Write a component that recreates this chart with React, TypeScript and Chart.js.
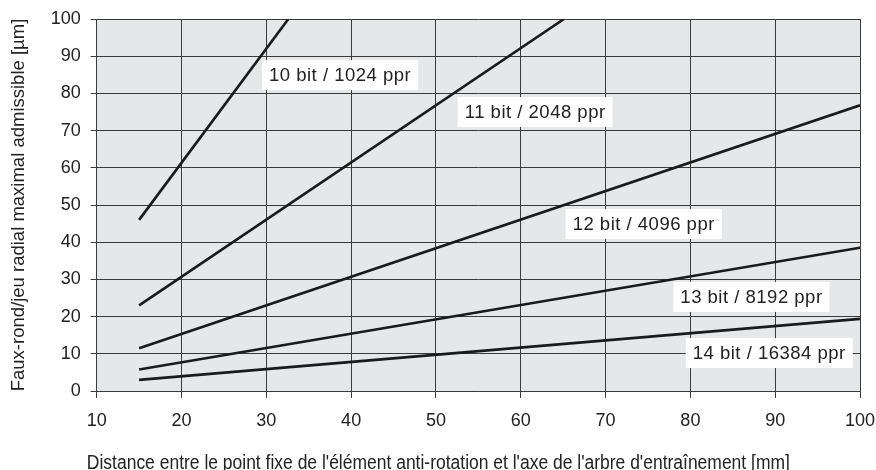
import React, { useEffect, useRef } from "react";
import { Chart, registerables } from "chart.js";
Chart.register(...registerables);

// Data
const xMin = 10;
const xMax = 100;
const yMin = 0;
const yMax = 100;
const tickStep = 10;

const line10bit = [{ x: 15, y: 46 }, { x: 32.6, y: 100 }];
const line11bit = [{ x: 15, y: 23 }, { x: 65.1, y: 100 }];
const line12bit = [{ x: 15, y: 11.5 }, { x: 100, y: 76.8 }];
const line13bit = [{ x: 15, y: 5.8 }, { x: 100, y: 38.5 }];
const line14bit = [{ x: 15, y: 3.0 }, { x: 100, y: 19.4 }];

const seriesNames = [
  "10 bit / 1024 ppr",
  "11 bit / 2048 ppr",
  "12 bit / 4096 ppr",
  "13 bit / 8192 ppr",
  "14 bit / 16384 ppr",
];
// label anchor (data coordinates, centre of label box)
const labelX = [38.7, 61.7, 74.5, 87.2, 89.3];
const labelY = [84.9, 75.0, 44.9, 25.3, 10.2];

const xTitle =
  "Distance entre le point fixe de l'élément anti-rotation et l'axe de l'arbre d'entraînement [mm]";
const yTitle = "Faux-rond/jeu radial maximal admissible [µm]";

const FONT = "'Liberation Sans', Arial, sans-serif";
const TEXT = "#222222";
const GRID = "#3a3a3a";
const BG = "#e6e7e8";
const LINE = "#1a1a1a";

const bgPlugin = {
  id: "bgPlugin",
  beforeDraw(chart: any) {
    const { ctx, chartArea } = chart;
    ctx.save();
    ctx.fillStyle = BG;
    ctx.fillRect(chartArea.left, chartArea.top, chartArea.right - chartArea.left, chartArea.bottom - chartArea.top);
    ctx.restore();
  },
};

const labelPlugin = {
  id: "labelPlugin",
  afterDatasetsDraw(chart: any) {
    const { ctx, scales } = chart;
    ctx.save();
    ctx.font = `18.5px ${FONT}`;
    try { (ctx as any).letterSpacing = "0.5px"; } catch (e) {}
    ctx.textAlign = "center";
    ctx.textBaseline = "middle";
    seriesNames.forEach((name, i) => {
      const cx = scales.x.getPixelForValue(labelX[i]);
      const cy = scales.y.getPixelForValue(labelY[i]);
      const w = ctx.measureText(name).width + 14;
      const h = 30;
      ctx.fillStyle = "#ffffff";
      ctx.fillRect(cx - w / 2, cy - h / 2, w, h);
      ctx.fillStyle = TEXT;
      ctx.fillText(name, cx, cy + 1);
    });
    ctx.restore();
  },
};

// condensed x-axis title (reference uses a condensed face)
const xTitlePlugin = {
  id: "xTitlePlugin",
  afterDraw(chart: any) {
    const { ctx, scales } = chart;
    ctx.save();
    ctx.font = `19.5px ${FONT}`;
    ctx.fillStyle = TEXT;
    ctx.textAlign = "center";
    ctx.textBaseline = "alphabetic";
    const natural = ctx.measureText(xTitle).width;
    const target = 703;
    const sx = target / natural;
    const cx = (scales.x.left + scales.x.right) / 2 - 40;
    ctx.translate(cx, 468.5);
    ctx.scale(sx, 1);
    ctx.fillText(xTitle, 0, 0);
    ctx.restore();
  },
};

export default function App() {
  const ref = useRef<HTMLCanvasElement | null>(null);
  useEffect(() => {
    if (!ref.current) return;
    const mk = (data: any) => ({
      data,
      borderColor: LINE,
      borderWidth: 2.6,
      pointRadius: 0,
      fill: false,
      tension: 0,
    });
    const chart = new Chart(ref.current, {
      type: "line",
      data: {
        datasets: [mk(line10bit), mk(line11bit), mk(line12bit), mk(line13bit), mk(line14bit)],
      },
      options: {
        animation: false,
        responsive: false,
        maintainAspectRatio: false,
        layout: { padding: { left: 8, right: 16, top: 19, bottom: 0 } },
        plugins: { legend: { display: false }, tooltip: { enabled: false } },
        scales: {
          x: {
            type: "linear",
            min: xMin,
            max: xMax,
            afterFit: (s: any) => { s.height = 79; s.paddingLeft = 0; s.paddingRight = 0; },
            ticks: { stepSize: tickStep, color: TEXT, font: { family: FONT, size: 18 }, padding: 12, maxRotation: 0 },
            grid: { color: GRID, lineWidth: 1, tickLength: 7, tickColor: GRID },
            border: { display: true, color: GRID, width: 1 },
          },
          y: {
            type: "linear",
            min: yMin,
            max: yMax,
            afterFit: (s: any) => { s.width = 88.7; s.paddingTop = 0; s.paddingBottom = 0; },
            ticks: { stepSize: tickStep, color: TEXT, font: { family: FONT, size: 18 }, padding: 10 },
            grid: { color: GRID, lineWidth: 1, tickLength: 6, tickColor: GRID },
            border: { display: true, color: GRID, width: 1 },
            title: { display: true, text: yTitle, color: TEXT, font: { family: FONT, size: 18.5 }, padding: 0 },
          },
        },
      },
      plugins: [bgPlugin, labelPlugin, xTitlePlugin],
    } as any);
    return () => chart.destroy();
  }, []);
  return (
    <div style={{ position: "fixed", left: 0, top: 0, width: 876, height: 470, background: "#fff" }}>
      <canvas ref={ref} width={876} height={470} style={{ width: 876, height: 470 }} />
    </div>
  );
}
